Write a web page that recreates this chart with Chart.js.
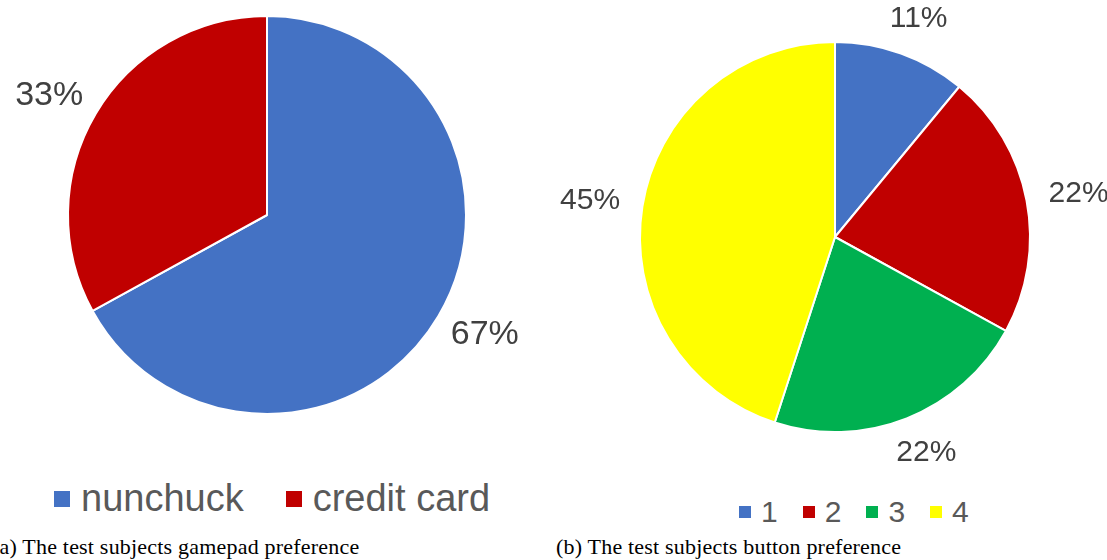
<!DOCTYPE html>
<html>
<head>
<meta charset="utf-8">
<script src="https://cdn.jsdelivr.net/npm/chart.js@4.4.1/dist/chart.umd.min.js"></script>
<style>
  body { margin: 0; background: #fff; width: 1107px; height: 560px; position: relative; overflow: hidden; }
  .box { position: absolute; }
  .legend { position: absolute; display: flex; align-items: center; font-family: "Liberation Sans", Arial, sans-serif; color: #595959; white-space: nowrap; }
  .legend span.sw { display: inline-block; }
  .caption { position: absolute; font-family: "Liberation Serif", "DejaVu Serif", serif; font-size: 22px; letter-spacing: 0.2px; color: #000; white-space: nowrap; }
</style>
</head>
<body>
<div class="box" style="left:0;top:0;width:540px;height:470px"><canvas id="pieA"></canvas></div>
<div class="box" style="left:553px;top:0;width:554px;height:480px"><canvas id="pieB"></canvas></div>
<div class="legend" id="legA" style="left:54px;top:477px;font-size:38px"></div>
<div class="legend" id="legB" style="left:739px;top:495px;font-size:30px"></div>
<div class="caption" style="left:-8px;top:534px">(a) The test subjects gamepad preference</div>
<div class="caption" style="left:556px;top:534px">(b) The test subjects button preference</div>
<script>
var gamepadLabels = ['nunchuck', 'credit card'];
var gamepadValues = [67, 33];
var gamepadColors = ['#4472C4', '#C00000'];

var buttonLabels = ['1', '2', '3', '4'];
var buttonValues = [11, 22, 22, 45];
var buttonColors = ['#4472C4', '#C00000', '#00B050', '#FFFF00'];

// percentage labels outside each slice; the text box is pushed out so its edge sits past the rim
var outsideLabels = {
  id: 'outsideLabels',
  afterDatasetsDraw: function(chart, args, opts) {
    var ctx = chart.ctx;
    var data = chart.data.datasets[0].data;
    var total = data.reduce(function(a, b) { return a + b; }, 0);
    ctx.save();
    ctx.font = opts.size + 'px "Liberation Sans", Arial, sans-serif';
    ctx.fillStyle = '#404040';
    ctx.textAlign = 'center';
    ctx.textBaseline = 'middle';
    chart.getDatasetMeta(0).data.forEach(function(arc, i) {
      var txt = Math.round(data[i] / total * 100) + '%';
      var w = ctx.measureText(txt).width;
      var h = opts.size * 0.9;
      var mid = (arc.startAngle + arc.endAngle) / 2;
      var ux = Math.cos(mid), uy = Math.sin(mid);
      var d = arc.outerRadius + opts.offset;
      ctx.fillText(txt, arc.x + ux * d + ux * w / 2, arc.y + uy * d + uy * h / 2);
    });
    ctx.restore();
  }
};

function makePie(id, labels, values, colors, pad, size, offset) {
  return new Chart(document.getElementById(id).getContext('2d'), {
    type: 'pie',
    data: {
      labels: labels,
      datasets: [{ data: values, backgroundColor: colors, borderColor: '#ffffff', borderWidth: 2 }]
    },
    options: {
      responsive: true,
      maintainAspectRatio: false,
      animation: false,
      layout: { padding: pad },
      plugins: {
        legend: { display: false },
        tooltip: { enabled: false },
        outsideLabels: { size: size, offset: offset }
      }
    },
    plugins: [outsideLabels]
  });
}

makePie('pieA', gamepadLabels, gamepadValues, gamepadColors, { left: 67, top: 15, right: 73, bottom: 55 }, 34, 20);
makePie('pieB', buttonLabels, buttonValues, buttonColors, { left: 86, top: 41, right: 76, bottom: 47 }, 30, 23);

function makeLegend(id, labels, colors, sq, gap, itemGap) {
  var el = document.getElementById(id);
  labels.forEach(function(name, i) {
    var sw = document.createElement('span');
    sw.className = 'sw';
    sw.style.width = sq + 'px';
    sw.style.height = sq + 'px';
    sw.style.background = colors[i];
    sw.style.marginRight = gap + 'px';
    if (i > 0) sw.style.marginLeft = itemGap + 'px';
    var t = document.createElement('span');
    t.textContent = name;
    el.appendChild(sw);
    el.appendChild(t);
  });
}
makeLegend('legA', gamepadLabels, gamepadColors, 16, 11, 42);
makeLegend('legB', buttonLabels, buttonColors, 12, 10, 25);
</script>
</body>
</html>
